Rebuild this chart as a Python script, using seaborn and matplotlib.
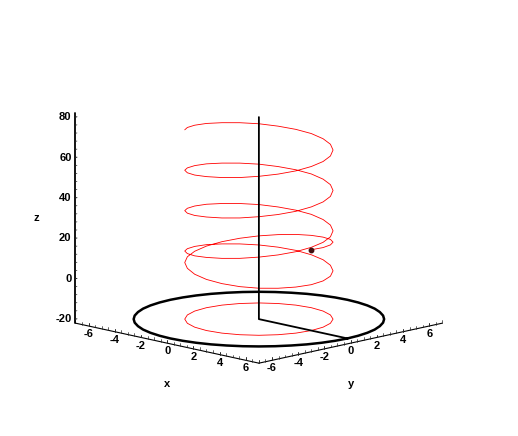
import matplotlib
matplotlib.use("Agg")
import matplotlib.pyplot as plt
import seaborn as sns
from matplotlib.ticker import MultipleLocator, NullFormatter
from mpl_toolkits.mplot3d import proj3d

# one turn of the red path (15 degree steps)
turn_x = [4, 3.86, 3.46, 2.83, 2, 1.04, 0, -1.04, -2, -2.83, -3.46, -3.86,
          -4, -3.86, -3.46, -2.83, -2, -1.04, 0, 1.04, 2, 2.83, 3.46, 3.86]
turn_y = [0, 1.04, 2, 2.83, 3.46, 3.86, 4, 3.86, 3.46, 2.83, 2, 1.04,
          0, -1.04, -2, -2.83, -3.46, -3.86, -4, -3.86, -3.46, -2.83, -2, -1.04]

path_x = turn_x * 4 + turn_x[:16]
path_y = turn_y * 4 + turn_y[:16]
path_z = [20.0, 19.4, 18.8, 18.1, 17.4, 16.6, 15.8, 15.0, 14.1, 13.2, 12.3, 11.4,
          10.5, 9.6, 8.8, 8.0, 7.2, 6.2, 5.3, 4.5, 3.8, 3.3, 3.0, 2.8,
          2.7, 2.9, 3.3, 3.9, 4.6, 5.4, 6.2, 7.1, 7.9, 8.7, 9.5, 10.3,
          11.2, 12.0, 12.8, 13.7, 14.5, 15.3, 16.2, 17.0, 17.8, 18.7, 19.5, 20.3,
          21.2, 22.0, 22.8, 23.7, 24.5, 25.3, 26.2, 27.0, 27.8, 28.7, 29.5, 30.3,
          31.2, 32.0, 32.8, 33.7, 34.5, 35.3, 36.2, 37.0, 37.8, 38.7, 39.5, 40.3,
          41.2, 42.0, 42.8, 43.7, 44.5, 45.3, 46.2, 47.0, 47.8, 48.7, 49.5, 50.3,
          51.2, 52.0, 52.8, 53.7, 54.5, 55.3, 56.2, 57.0, 57.8, 58.7, 59.5, 60.3,
          61.2, 62.0, 62.8, 63.7, 64.5, 65.3, 66.2, 67.0, 67.8, 68.7, 69.5, 70.3,
          71.2, 72.0, 72.8, 73.7]

floor_z = -20
# red circle on the floor plane, closed
floor_x = turn_x + turn_x[:1]
floor_y = turn_y + turn_y[:1]

# big black circle, closed (7.5 degree steps)
ring_q1 = [6.76, 6.70, 6.53, 6.25, 5.85, 5.36, 4.78, 4.12, 3.38, 2.59, 1.75, 0.88]
ring_q2 = [0, -0.88, -1.75, -2.59, -3.38, -4.12, -4.78, -5.36, -5.85, -6.25, -6.53, -6.70]
ring_q3 = [-6.76, -6.70, -6.53, -6.25, -5.85, -5.36, -4.78, -4.12, -3.38, -2.59, -1.75, -0.88]
ring_q4 = [0, 0.88, 1.75, 2.59, 3.38, 4.12, 4.78, 5.36, 5.85, 6.25, 6.53, 6.70]
ring_x = ring_q1 + ring_q2 + ring_q3 + ring_q4 + ring_q1[:1]
ring_y = ring_q4 + ring_q1 + ring_q2 + ring_q3 + ring_q4[:1]

# black L shape: top of the pole, centre, point on the ring
pole_x = [0, 0, 6.76]
pole_y = [0, 0, 0]
pole_z = [80, -20, -20]

start_point = (4, 0, 20)
xy_ticks = [-6, -4, -2, 0, 2, 4, 6]
z_ticks = [-20, 0, 20, 40, 60, 80]

sns.set_style("white")
plt.rcParams['font.family'] = ['Liberation Sans', 'DejaVu Sans']
plt.rcParams['text.color'] = 'black'
plt.rcParams['axes.unicode_minus'] = False

fig = plt.figure(figsize=(5.18, 4.36), dpi=100)
ax = fig.add_subplot(111, projection='3d', proj_type='ortho', computed_zorder=False)
ax.set_position([35 / 518, -6 / 436, 436 / 518, 1])
ax.view_init(elev=12.6, azim=-45)
ax.set_xlim(-7, 7, view_margin=0)
ax.set_ylim(-7, 7, view_margin=0)
ax.set_zlim(-22, 82, view_margin=0)
ax.set_box_aspect((1, 1, 0.83), zoom=0.947)
ax.patch.set_alpha(0)

ax.plot(floor_x, floor_y, [floor_z] * len(floor_x), color='red', lw=0.6)
ax.plot(ring_x, ring_y, [floor_z] * len(ring_x), color='black', lw=1.8)
ax.plot(path_x, path_y, path_z, color='red', lw=0.6)
ax.plot(pole_x, pole_y, pole_z, color='black', lw=1.3)
ax.plot(*[[v] for v in start_point], marker='o', ms=3.2, color='#401010', ls='none')

ax.set_xticks(xy_ticks)
ax.set_yticks(xy_ticks)
ax.set_zticks(z_ticks)
ax.xaxis.set_minor_locator(MultipleLocator(0.5))
ax.yaxis.set_minor_locator(MultipleLocator(0.5))
ax.zaxis.set_minor_locator(MultipleLocator(4))

ax.grid(False)
for axis in (ax.xaxis, ax.yaxis, ax.zaxis):
    axis.set_pane_color((1, 1, 1, 0))
    axis.pane.set_edgecolor((1, 1, 1, 0))
    axis.line.set_color('black')
    axis.line.set_linewidth(0.8)
    axis.set_major_formatter(NullFormatter())
    axis._axinfo['tick'].update(inward_factor=0, outward_factor=0.1,
                                linewidth={True: 0.7, False: 0.5})
ax.zaxis.line.set_linewidth(1.3)
ax.zaxis.set_ticks_position('lower')

# floor axes: ticks stand upright like in the original
for axis in (ax.xaxis, ax.yaxis):
    axis._get_tickdir = lambda position: 2
    axis._axinfo['tick'].update(inward_factor=0.17, outward_factor=0)


def label(x, y, z, s, ha='center'):
    # place text at a 3d spot, as plain 2d text on the projection
    px, py, _ = proj3d.proj_transform(x, y, z, ax.get_proj())
    ax.text2D(px, py, s, transform=ax.transData, ha=ha, va='center',
              fontweight='bold', fontsize=8)


for v in xy_ticks:
    label(v, -7, -26, str(v))
    label(7, v, -26, str(v))
for v in z_ticks:
    label(-7.15, -7.15, v, str(v), ha='right')

label(0, -7, -42, 'x')
label(7, 0, -42, 'y')
label(-8.5, -8.5, 30, 'z')

fig.savefig('out.png', dpi=100)
